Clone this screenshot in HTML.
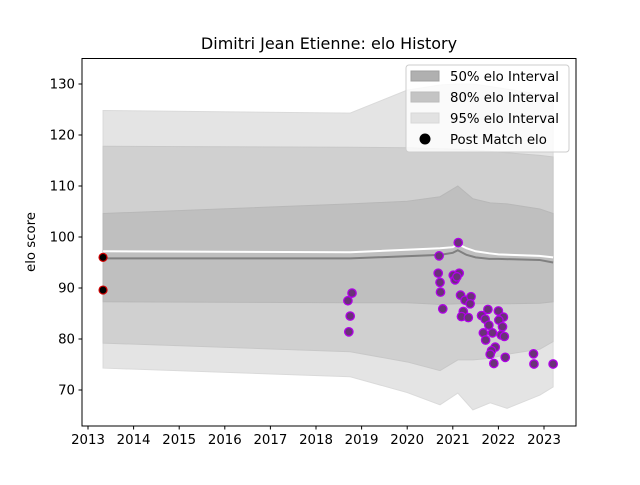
<!DOCTYPE html>
<html><head><meta charset="utf-8"><style>
body{margin:0;background:#fff;}
svg text{font-family:"DejaVu Sans","Liberation Sans",sans-serif;}
</style></head><body>
<svg id="chart" width="640" height="480" viewBox="0 0 640 480" xmlns="http://www.w3.org/2000/svg">
<rect width="640" height="480" fill="#fff"/>
<text x="329" y="49" font-size="16" text-anchor="middle">Dimitri Jean Etienne: elo History</text>
<g id="bands"></g>
<g id="lines"></g>
<g id="points"></g>
<rect x="82" y="58.5" width="494" height="367.5" fill="none" stroke="#000" stroke-width="1"/>
<g id="axes"></g>
<text transform="translate(35,242) rotate(-90)" font-size="13.3" text-anchor="middle">elo score</text>
<g>
<rect x="406" y="65" width="163" height="87" rx="3" fill="#fff" fill-opacity="0.8" stroke="#ccc"/>
<rect x="411" y="71" width="28" height="10" fill="#b0b0b0" stroke="#a0a0a0"/>
<text x="450" y="81" font-size="13.3">50% elo Interval</text>
<rect x="411" y="92" width="28" height="10" fill="#c4c4c4" stroke="#bbb"/>
<text x="450" y="102" font-size="13.3">80% elo Interval</text>
<rect x="411" y="113" width="28" height="10" fill="#e2e2e2" stroke="#d8d8d8"/>
<text x="450" y="123" font-size="13.3">95% elo Interval</text>
<circle cx="425" cy="139" r="5.5" fill="#000"/>
<text x="450" y="144" font-size="13.3">Post Match elo</text>
</g>
</svg>
<script>
const bandYears = [2013.33, 2018.75, 2020.0, 2020.72, 2021.11, 2021.44, 2021.82, 2022.19, 2022.91, 2023.2];
const upper95 = [124.8, 124.3, 128.8, 129.8, 130, 130, 129.5, 129, 128, 127];
const upper80 = [117.8, 117.6, 117.5, 117.3, 117.2, 117, 116.8, 116.5, 116, 115.7];
const upper50 = [104.6, 106.5, 107, 107.9, 110, 107.5, 106.7, 106.5, 105.5, 104.6];
const lower50 = [87.3, 87.1, 87.1, 86.8, 86.9, 86.9, 86.9, 86.9, 87.0, 87.3];
const lower80 = [79.2, 77.5, 75.5, 73.8, 75.9, 75.9, 76.2, 77.0, 78.0, 79.5];
const lower95 = [74.3, 72.6, 69.5, 67.1, 69.4, 66.1, 67.5, 66.4, 69.0, 70.6];
const lineYears = [2013.33, 2018.75, 2020.72, 2021.0, 2021.11, 2021.3, 2021.5, 2021.8, 2022.0, 2022.9, 2023.2];
const meanElo = [95.8, 95.8, 96.5, 96.9, 97.4, 96.5, 96.0, 95.7, 95.7, 95.5, 95.0];
const upperLine = [97.2, 97.0, 97.8, 98.0, 98.6, 97.8, 97.2, 96.8, 96.6, 96.3, 96.0];
const firstYears = [2013.33, 2013.33];
const firstElo = [96.0, 89.6];
const matchYears = [2018.70,2018.75,2018.72,2018.79,2021.12,2020.70,2020.68,2020.72,2020.73,2020.78,2021.01,2021.14,2021.05,2021.09,2021.17,2021.27,2021.40,2021.38,2021.23,2021.19,2021.34,2021.63,2021.71,2021.77,2021.79,2021.67,2021.72,2021.87,2022.00,2022.11,2022.01,2022.09,2022.06,2022.13,2021.93,2021.85,2021.82,2021.90,2022.15,2022.77,2022.78,2023.20];
const matchElo = [87.5,84.5,81.4,89.0,98.9,96.3,92.9,91.1,89.2,85.9,92.5,92.9,91.6,92.2,88.6,87.6,88.3,86.9,85.4,84.4,84.2,84.6,83.9,85.8,82.7,81.2,79.8,81.2,85.5,84.3,83.7,82.4,80.8,80.5,78.4,77.7,77.0,75.2,76.4,77.1,75.1,75.1];
const xTicks = [2013,2014,2015,2016,2017,2018,2019,2020,2021,2022,2023];
const yTicks = [70,80,90,100,110,120,130];

const NS = "http://www.w3.org/2000/svg";
function X(yr){return 88 + (yr-2013)*45.6;}
function Y(v){return 390 - (v-70)*5.1;}
function mk(tag, attrs, parent){const e=document.createElementNS(NS,tag);for(const k in attrs)e.setAttribute(k,attrs[k]);parent.appendChild(e);return e;}
function bandPath(up, lo){
  let d = bandYears.map((t,i)=>(i?'L':'M')+X(t)+','+Y(up[i])).join(' ');
  for(let i=bandYears.length-1;i>=0;i--) d+=' L'+X(bandYears[i])+','+Y(lo[i]);
  return d+' Z';
}
const bands=document.getElementById('bands');
let p;
p=mk('path',{d:bandPath(upper95,lower95),fill:'#e4e4e4',stroke:'#dadada'},bands);


p=mk('path',{d:bandPath(upper80,lower80),fill:'#d0d0d0',stroke:'#c8c8c8'},bands);


p=mk('path',{d:bandPath(upper50,lower50),fill:'#bfbfbf',stroke:'#b8b8b8'},bands);



const lines=document.getElementById('lines');
p=mk('polyline',{points:lineYears.map((t,i)=>X(t)+','+Y(meanElo[i])).join(' '),fill:'none',stroke:'#808080','stroke-width':2},lines);


p=mk('polyline',{points:lineYears.map((t,i)=>X(t)+','+Y(upperLine[i])).join(' '),fill:'none',stroke:'#ffffff','stroke-width':2},lines);



const pts=document.getElementById('points');
firstYears.forEach((t,i)=>{
  const c=mk('circle',{cx:X(t),cy:Y(firstElo[i]),r:4,fill:'#000',stroke:'#d00000','stroke-width':1.2},pts);
  
  
});
matchYears.forEach((t,i)=>{
  const c=mk('circle',{cx:X(t),cy:Y(matchElo[i]),r:4.2,fill:'#6a3278',stroke:'#b000e8','stroke-width':1.3},pts);
  
  
});

const axes=document.getElementById('axes');
xTicks.forEach(t=>{
  const x=X(t);
  const l=mk('line',{x1:x,y1:426,x2:x,y2:429.5,stroke:'#000'},axes);
  
  
  const tx=mk('text',{x:x,y:444,'font-size':13.3,'text-anchor':'middle'},axes);
  tx.textContent=t;
  
  
});
yTicks.forEach(v=>{
  const y=Y(v);
  const l=mk('line',{x1:78.5,y1:y,x2:82,y2:y,stroke:'#000'},axes);
  
  
  const tx=mk('text',{x:75,y:y+4.5,'font-size':13.3,'text-anchor':'end'},axes);
  tx.textContent=v;
  
  
});
</script>
</body></html>
